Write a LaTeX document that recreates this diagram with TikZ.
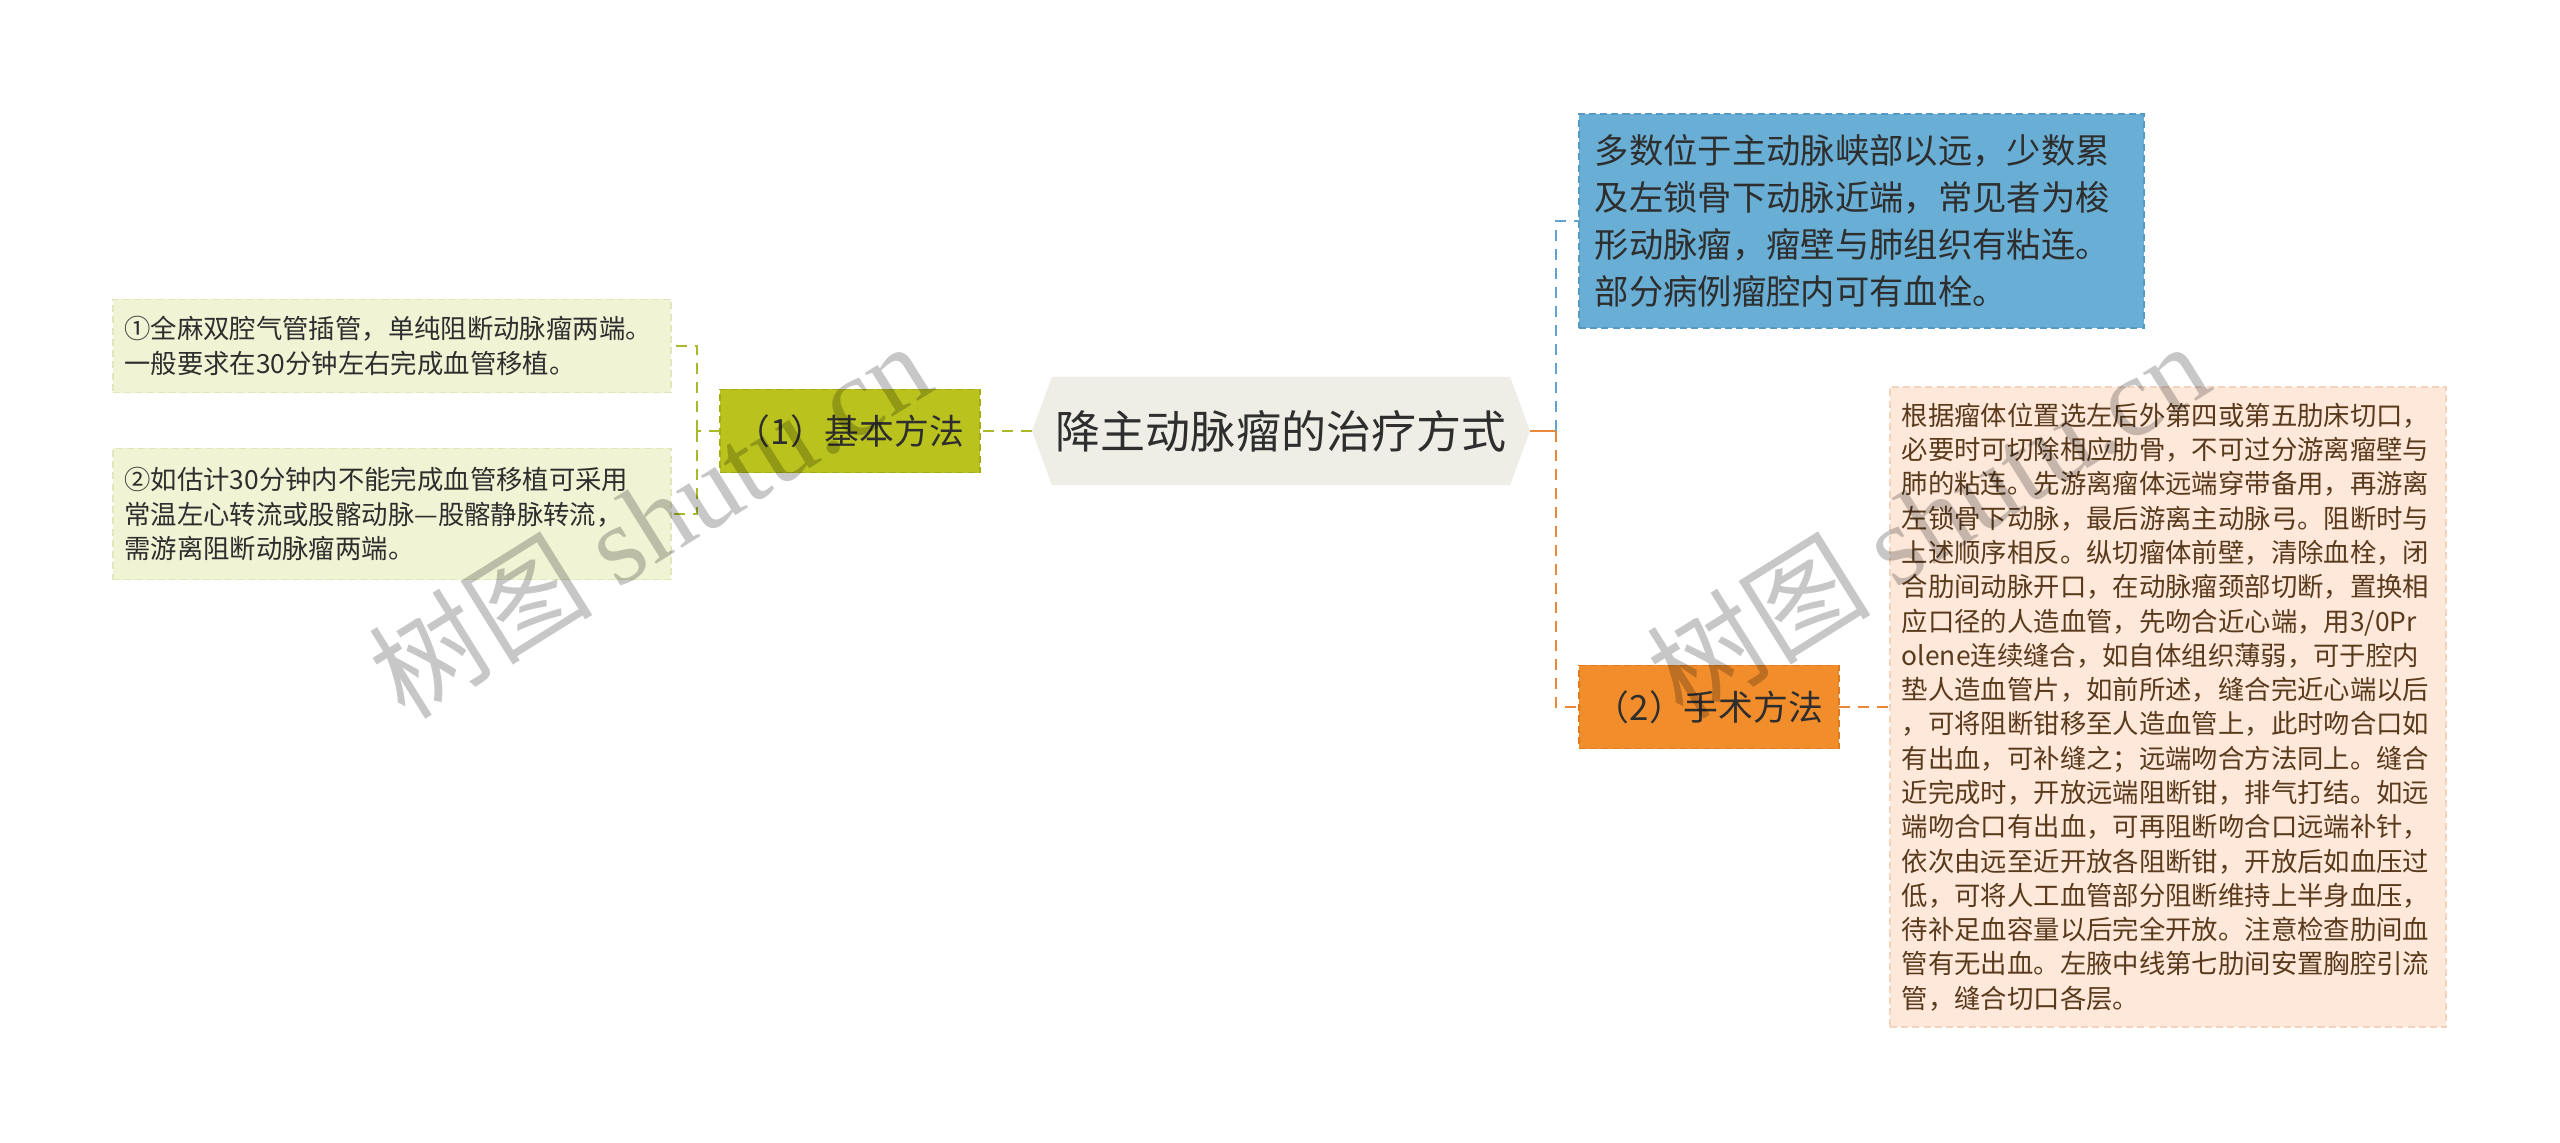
\documentclass[tikz,border=0pt]{standalone}
\usepackage{fontspec}
\setmainfont{Noto Sans CJK SC}
\newfontfamily\wmlatin{Liberation Serif}
\usetikzlibrary{backgrounds}
\definecolor{rootfill}{HTML}{EEEEE6}
\definecolor{olivefill}{HTML}{BAC31D}
\definecolor{oliveline}{HTML}{A9B92A}
\definecolor{oliveborder}{HTML}{A3AC16}
\definecolor{leafLfill}{HTML}{F1F3D5}
\definecolor{leafLborder}{HTML}{E2E6BC}
\definecolor{bluefill}{HTML}{69AED4}
\definecolor{blueborder}{HTML}{5599C4}
\definecolor{blueline}{HTML}{5FA3D0}
\definecolor{orangefill}{HTML}{F28D2C}
\definecolor{orangeborder}{HTML}{E07A1E}
\definecolor{orangeline}{HTML}{E8893A}
\definecolor{peachfill}{HTML}{FDE8DA}
\definecolor{peachborder}{HTML}{F4D3BE}
\definecolor{browntext}{HTML}{5A3A1C}
\definecolor{darktext}{HTML}{2E2E2E}
\begin{document}
\begin{tikzpicture}[x=0.01cm,y=-0.01cm,
  boxbase/.style={rectangle, outer sep=0pt},
  rootbox/.style={boxbase, inner sep=0pt, minimum width=4.58cm, minimum height=1.08cm,
    text=darktext, font=\fontsize{12.8}{15}\selectfont},
  midbox/.style={boxbase, inner sep=0pt, minimum width=2.60cm, minimum height=0.83cm,
    text=darktext, font=\fontsize{9.9}{12}\selectfont, dash pattern=on 2pt off 1.2pt, line width=0.5pt},
  leafbox/.style={boxbase, inner ysep=0pt, align=left, dash pattern=on 2pt off 1.2pt, line width=0.5pt},
  leafleft/.style={leafbox, fill=leafLfill, draw=leafLborder, text=darktext,
    inner xsep=0.115cm, text width=5.35cm, font=\fontsize{7.5}{9.75}\selectfont},
  leafright/.style={leafbox, fill=peachfill, draw=peachborder, text=browntext,
    inner xsep=0.12cm, text width=5.32cm, font=\fontsize{7.5}{9.75}\selectfont},
  leafblue/.style={leafbox, fill=bluefill, draw=blueborder, text=darktext,
    inner xsep=0.16cm, text width=5.33cm, font=\fontsize{9.76}{13.4}\selectfont},
  conn/.style={line width=0.75pt, dash pattern=on 3.2pt off 2.2pt},
  watermark/.style={rotate=32, text=black, opacity=0.22, font=\fontsize{32}{36}\selectfont}
]
\useasboundingbox (0,0) rectangle (2560,1142);

% root
\node[rootbox] (root) at (1281,431) {降主动脉瘤的治疗方式};
\coordinate (rootW) at (1032,431);
\coordinate (rootE) at (1530,431);
\begin{scope}[on background layer]
\fill[white] (0,0) rectangle (2560,1142);
\fill[rootfill] (rootW) -- (root.north west) -- (root.north east) -- (rootE)
  -- (root.south east) -- (root.south west) -- cycle;
\end{scope}

% left branch
\node[midbox, fill=olivefill, draw=oliveborder] (b1) at (850,431) {（1）基本方法};
\node[leafleft, minimum height=0.93cm] (l1) at (392,346)
  {①全麻双腔气管插管，单纯阻断动脉瘤两端。\\一般要求在30分钟左右完成血管移植。};
\node[leafleft, minimum height=1.31cm] (l2) at (392,514)
  {②如估计30分钟内不能完成血管移植可采用\\常温左心转流或股髂动脉—股髂静脉转流，\\需游离阻断动脉瘤两端。};
\coordinate (jL) at (697,431);

\draw[conn, oliveline] (rootW) -- (b1.east);
\draw[conn, oliveline] (b1.west) -- (jL);
\draw[conn, oliveline] (jL) |- (l1.east);
\draw[conn, oliveline] (jL) |- (l2.east);

% right branch
\node[leafblue, minimum height=2.14cm] (blue) at (1861.5,221)
  {多数位于主动脉峡部以远，少数累\\及左锁骨下动脉近端，常见者为梭\\形动脉瘤，瘤壁与肺组织有粘连。\\部分病例瘤腔内可有血栓。};
\node[midbox, fill=orangefill, draw=orangeborder] (b2) at (1709,707) {（2）手术方法};
\node[leafright, minimum height=6.40cm] (rl) at (2168,707)
  {根据瘤体位置选左后外第四或第五肋床切口，\\必要时可切除相应肋骨，不可过分游离瘤壁与\\肺的粘连。先游离瘤体远端穿带备用，再游离\\左锁骨下动脉，最后游离主动脉弓。阻断时与\\上述顺序相反。纵切瘤体前壁，清除血栓，闭\\合肋间动脉开口，在动脉瘤颈部切断，置换相\\应口径的人造血管，先吻合近心端，用3/0Pr\\olene连续缝合，如自体组织薄弱，可于腔内\\垫人造血管片，如前所述，缝合完近心端以后\\，可将阻断钳移至人造血管上，此时吻合口如\\有出血，可补缝之；远端吻合方法同上。缝合\\近完成时，开放远端阻断钳，排气打结。如远\\端吻合口有出血，可再阻断吻合口远端补针，\\依次由远至近开放各阻断钳，开放后如血压过\\低，可将人工血管部分阻断维持上半身血压，\\待补足血容量以后完全开放。注意检查肋间血\\管有无出血。左腋中线第七肋间安置胸腔引流\\管，缝合切口各层。};
\coordinate (jR) at (1556,431);

\draw[line width=0.75pt, orangeline] (rootE) -- (jR);
\draw[conn, blueline] (jR) |- (blue.west);
\draw[conn, orangeline] (jR) |- (b2.west);
\draw[conn, orangeline] (b2.east) -- (rl.west);

% watermarks
\node[watermark] (wm1) at (649,519) {树图 {\wmlatin shutu.cn}};
\node[watermark] (wm2) at (1927,519) {树图 {\wmlatin shutu.cn}};
\end{tikzpicture}
\end{document}
